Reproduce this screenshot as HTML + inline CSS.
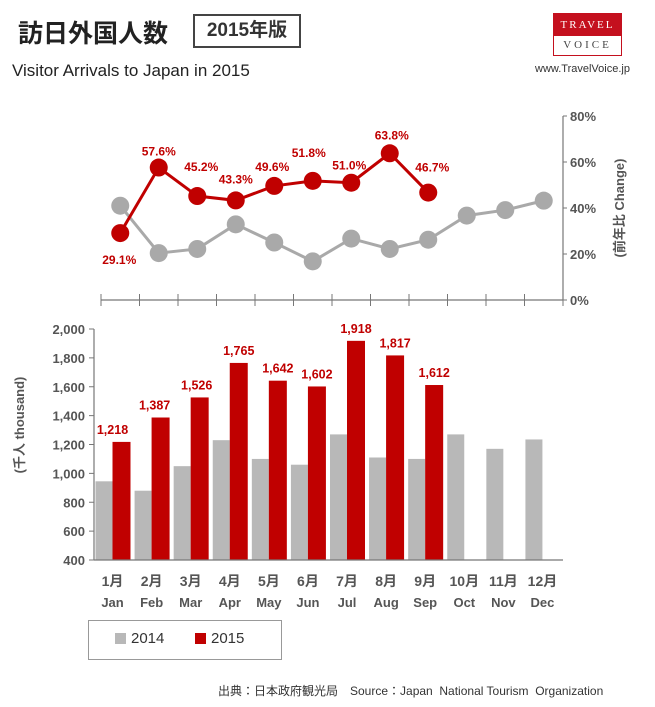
<!DOCTYPE html>
<html><head><meta charset="utf-8"><style>
body{margin:0;background:#fff;}
#wrap{position:relative;width:655px;height:707px;overflow:hidden;font-family:"Liberation Sans","Noto Sans CJK JP",sans-serif;}
.abs{position:absolute;}
</style></head><body>
<div id="wrap">
<div class="abs" style="left:18px;top:14px;font-size:25px;font-weight:bold;color:#222;">訪日外国人数</div>
<div class="abs" style="left:193px;top:14px;width:104px;height:30px;border:2px solid #444;font-size:19px;font-weight:bold;color:#333;text-align:center;line-height:30px;">2015年版</div>
<div class="abs" style="left:12px;top:61px;font-size:17px;color:#222;">Visitor Arrivals to Japan in 2015</div>
<div class="abs" style="left:553px;top:13px;width:69px;height:43px;border:1px solid #c4101e;box-sizing:border-box;font-family:'Liberation Serif',serif;">
  <div style="height:22px;background:#c4101e;color:#fff;font-size:11px;text-align:center;line-height:22px;letter-spacing:2px;">TRAVEL</div>
  <div style="color:#444;font-size:11px;text-align:center;line-height:19px;letter-spacing:3px;">VOICE</div>
</div>
<div class="abs" style="left:535px;top:63px;font-size:11px;color:#333;">www.TravelVoice.jp</div>
<svg class="abs" style="left:0;top:0" width="655" height="707" id="svg"></svg>
<div class="abs" style="left:88px;top:620px;width:192px;height:38px;border:1px solid #999;font-size:15px;color:#333;">
  <span style="position:absolute;left:26px;top:12px;width:11px;height:11px;background:#b8b8b8"></span><span style="position:absolute;left:42px;top:9px;">2014</span>
  <span style="position:absolute;left:106px;top:12px;width:11px;height:11px;background:#c00000"></span><span style="position:absolute;left:122px;top:9px;">2015</span>
</div>
<div class="abs" style="left:218px;top:682px;font-size:12px;color:#333;white-space:pre;">出典：日本政府観光局　Source：Japan  National Tourism  Organization</div>
</div>
<script>
const months=["1月","2月","3月","4月","5月","6月","7月","8月","9月","10月","11月","12月"];
const monthsEn=["Jan","Feb","Mar","Apr","May","Jun","Jul","Aug","Sep","Oct","Nov","Dec"];
const visitors2014=[945,880,1050,1230,1100,1060,1270,1110,1100,1270,1170,1235];
const visitors2015=[1218,1387,1526,1765,1642,1602,1918,1817,1612];
const change2014=[41,20.4,22.2,32.9,25,16.8,26.7,22.2,26.2,36.7,39.1,43.2];
const change2015=[29.1,57.6,45.2,43.3,49.6,51.8,51.0,63.8,46.7];
const barTicks=[400,600,800,1000,1200,1400,1600,1800,2000];
const pctTicks=[0,20,40,60,80];
const NS="http://www.w3.org/2000/svg",svg=document.getElementById('svg');
function mk(t,a,txt){const e=document.createElementNS(NS,t);for(const k in a)e.setAttribute(k,a[k]);if(txt!==undefined)e.textContent=txt;svg.appendChild(e);return e;}
const F='"Liberation Sans","Noto Sans CJK JP",sans-serif';
// line chart
const lx0=101,lx1=563,lw=(lx1-lx0)/12;
const lX=i=>lx0+lw*(i+0.5), lY=v=>300-v*2.3;
let e=mk('line',{x1:lx0,y1:300,x2:lx1,y2:300,stroke:'#777','stroke-width':1.2});

for(let i=0;i<=12;i++){e=mk('line',{x1:lx0+lw*i,y1:294,x2:lx0+lw*i,y2:306,stroke:'#777'});}
e=mk('line',{x1:lx1,y1:116,x2:lx1,y2:300,stroke:'#777','stroke-width':1.2});

pctTicks.forEach(v=>{e=mk('line',{x1:lx1,y1:lY(v),x2:lx1+4,y2:lY(v),stroke:'#777'});
e=mk('text',{x:570,y:lY(v)+5,'font-size':13,'font-weight':'bold',fill:'#555','font-family':F},v+'%');});
e=mk('text',{x:0,y:0,'font-size':13,'font-weight':'bold',fill:'#555','font-family':F,transform:'translate(624,208) rotate(-90)','text-anchor':'middle','xml:space':'preserve'},'(前年比    Change)');

function series(vals,col,nm){
 e=mk('polyline',{points:vals.map((v,i)=>lX(i)+','+lY(v)).join(' '),fill:'none',stroke:col,'stroke-width':3});
 
 vals.forEach((v,i)=>{e=mk('circle',{cx:lX(i),cy:lY(v),r:9,fill:col});});
}
series(change2014,'#a9a9a9','change-2014');
series(change2015,'#c00000','change-2015');
const ldx=[-1,0,4,0,-2,-4,-2,2,4], ldy=[31,-12,-25,-17,-15,-24,-13,-14,-21];
change2015.forEach((v,i)=>{
 e=mk('text',{x:lX(i)+ldx[i],y:lY(v)+ldy[i],'font-size':12,'font-weight':'bold',fill:'#c00000','text-anchor':'middle','font-family':F},v.toFixed(1)+'%');
 });
// bar chart
const bx0=94,bx1=563,bw=(bx1-bx0)/12;
const bY=v=>560-(v-400)*(231/1600);
barTicks.forEach(v=>{e=mk('line',{x1:89,y1:bY(v),x2:94,y2:bY(v),stroke:'#777'});
e=mk('text',{x:85,y:bY(v)+5,'font-size':13,'font-weight':'bold',fill:'#555','text-anchor':'end','font-family':F},v.toLocaleString('en-US'));});
visitors2014.forEach((v,i)=>{e=mk('rect',{x:bx0+bw*i+1.5,y:bY(v),width:17,height:560-bY(v),fill:'#b8b8b8'});});
visitors2015.forEach((v,i)=>{const x=bx0+bw*i+18.5;e=mk('rect',{x:x,y:bY(v),width:18,height:560-bY(v),fill:'#c00000'});
e=mk('text',{x:x+9-(i===0?9:i===1?6:i===2?3:0),y:bY(v)-8,'font-size':12.5,'font-weight':'bold',fill:'#c00000','text-anchor':'middle','font-family':F},v.toLocaleString('en-US'));});
e=mk('line',{x1:bx0,y1:329,x2:bx0,y2:560,stroke:'#777','stroke-width':1.2});
e=mk('line',{x1:bx0,y1:560,x2:bx1,y2:560,stroke:'#777','stroke-width':1.2});
months.forEach((m,i)=>{const cx=bx0+bw*(i+0.5)-1;
e=mk('text',{x:cx,y:586,'font-size':14,'font-weight':'bold',fill:'#555','text-anchor':'middle','font-family':F},m);
e=mk('text',{x:cx,y:607,'font-size':13,'font-weight':'bold',fill:'#555','text-anchor':'middle','font-family':F},monthsEn[i]);});
e=mk('text',{x:0,y:0,'font-size':13,'font-weight':'bold',fill:'#555','font-family':F,transform:'translate(24,425) rotate(-90)','text-anchor':'middle','xml:space':'preserve'},'(千人    thousand)');

</script>
</body></html>
